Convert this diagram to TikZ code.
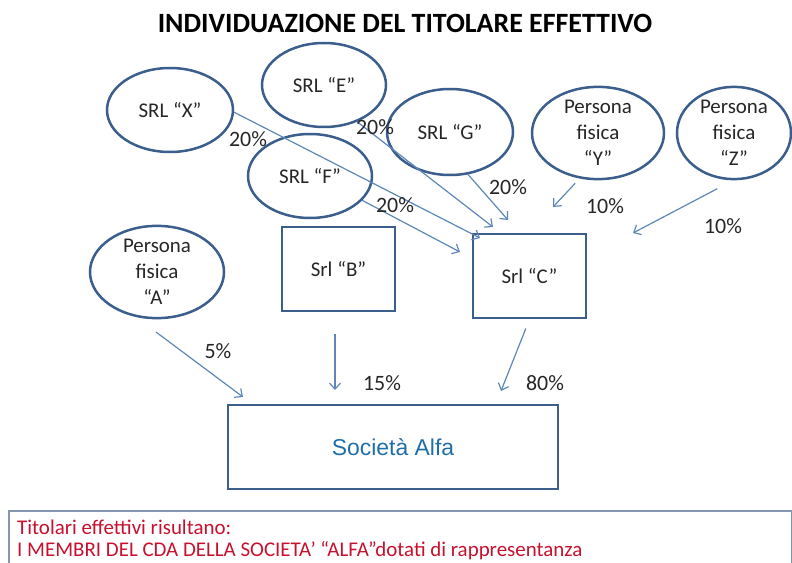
\documentclass[tikz,border=0pt]{standalone}
\usepackage{fontspec}
\setmainfont{Carlito}
\newfontfamily\arialf{Liberation Sans}
\usetikzlibrary{shapes.geometric,arrows.meta}
\definecolor{shapeline}{HTML}{3B5E8C}
\definecolor{arrowc}{HTML}{5E87B8}
\definecolor{redt}{HTML}{C8102E}
\definecolor{bluet}{HTML}{1F6EA8}
\definecolor{boxline}{HTML}{8496B0}
\definecolor{txt}{HTML}{262626}
\tikzset{
  ell/.style={ellipse, draw=shapeline, line width=2.5bp, inner sep=0pt, align=center,
    text=txt, font=\fontsize{21}{26}\selectfont},
  rbox/.style={rectangle, draw=shapeline, line width=2.5bp, inner sep=0pt, align=center,
    text=txt, font=\fontsize{21}{26}\selectfont},
  arr/.style={draw=arrowc, line width=1.2bp, -{Straight Barb[length=6bp,width=11bp]}},
  pct/.style={text=txt, font=\fontsize{22}{24}\selectfont, inner sep=0pt},
  redline/.style={text=redt, font=\fontsize{21}{24}\selectfont, inner sep=0pt, anchor=west},
}
\begin{document}
\begin{tikzpicture}[x=1bp,y=-1bp]
\useasboundingbox (0,0) rectangle (792,563);
% title
\node[font=\bfseries\fontsize{28}{30}\selectfont, inner sep=0pt] (title) at (405,23) {INDIVIDUAZIONE DEL TITOLARE EFFETTIVO};
% ellipses
\node[ell, minimum width=126bp, minimum height=84bp] (X) at (170,110) {SRL “X”};
\node[ell, minimum width=124bp, minimum height=84bp] (E) at (324,85) {SRL “E”};
\node[ell, minimum width=126bp, minimum height=86bp] (G) at (450,132) {SRL “G”};
\node[ell, minimum width=124bp, minimum height=84bp] (F) at (310,176) {SRL “F”};
\node[ell, minimum width=132bp, minimum height=82bp] (Y) at (598,133) {Persona\\fisica\\“Y”};
\node[ell, minimum width=114bp, minimum height=82bp] (Z) at (734,133) {Persona\\fisica\\“Z”};
\node[ell, minimum width=134bp, minimum height=78bp] (A) at (157,272) {Persona\\fisica\\“A”};
% rectangles
\node[rbox, minimum width=113bp, minimum height=84bp] (B) at (338.5,269) {Srl “B”};
\node[rbox, minimum width=113bp, minimum height=84bp] (C) at (529.5,276) {Srl “C”};
\node[rbox, minimum width=330bp, minimum height=84bp, text=bluet, font=\arialf\fontsize{23}{26}\selectfont] (alfa) at (393,447) {Società Alfa};
% arrow end points
\coordinate (xEnd) at (480,238);
\coordinate (eEnd) at (493,227);
\coordinate (gEnd) at (508,220);
\coordinate (fEnd) at (460,252);
\coordinate (yEnd) at (553,207);
\coordinate (zEnd) at (633,233);
\coordinate (aEnd) at (243,397);
\coordinate (bEnd) at (335,390);
\coordinate (cEnd) at (501,391);
% arrows
\draw[arr] (X.-2) -- (xEnd);
\draw[arr] (E.-48) -- (eEnd);
\draw[arr] (G.-67) -- (gEnd);
\draw[arr] (F.-25) -- (fEnd);
\draw[arr, shorten <=6.5bp] (Y.-112) -- (yEnd);
\draw[arr, shorten <=18bp] (Z.-91) -- (zEnd);
\draw[arr, shorten <=25bp] (A.-115) -- (aEnd);
\draw[arr, shorten <=22bp] (B.south -| bEnd) -- (bEnd);
\draw[arr, shorten <=10bp] (C.south) -- (cEnd);
% percentages
\node[pct] (pX) at (248,139) {20\%};
\node[pct] (pE) at (375,127) {20\%};
\node[pct] (pF) at (395,205) {20\%};
\node[pct] (pG) at (508,187) {20\%};
\node[pct] (pY) at (605,206) {10\%};
\node[pct] (pZ) at (723,226) {10\%};
\node[pct] (pA) at (218,351) {5\%};
\node[pct] (pB) at (382,383) {15\%};
\node[pct] (pC) at (545,383) {80\%};
% bottom text box
\node[draw=boxline, line width=1.5bp, anchor=north west, minimum width=783bp, minimum height=70bp, inner sep=0pt] (note) at (8,510) {};
\node[redline] (l1) at (17,527) {Titolari effettivi risultano:};
\node[redline] (l2) at (17,551) {I MEMBRI DEL CDA DELLA SOCIETA’ “ALFA”dotati di rappresentanza};
\end{tikzpicture}
\end{document}
